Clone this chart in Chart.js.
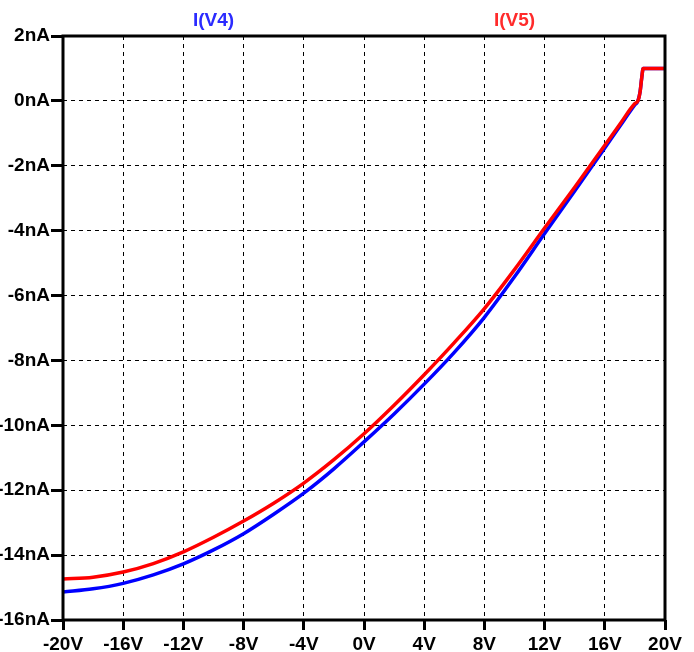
<!DOCTYPE html>
<html>
<head>
<meta charset="utf-8">
<script src="https://cdn.jsdelivr.net/npm/chart.js@4.4.1/dist/chart.umd.min.js"></script>
<style>
  html, body { margin: 0; padding: 0; background: #ffffff; }
  #wrap { width: 694px; height: 652px; }
</style>
</head>
<body>
<div id="wrap"><canvas id="c" width="694" height="652"></canvas></div>
<script>
// Sweep voltage (V)
const voltsV4 = [-20, -18, -16, -14, -12, -10, -8, -6, -4, -2, 0, 2, 4, 6, 8, 10, 12, 14, 16, 17, 18, 18.2, 18.35, 18.45, 18.55, 20];
const voltsV5 = [-20, -18, -16, -14, -12, -10, -8, -6, -4, -2, 0, 2, 4, 6, 8, 10, 12, 14, 16, 17, 18, 18.2, 18.35, 18.45, 18.55, 20];
// Currents (nA)
const currentV4 = [-15.14, -15.04, -14.87, -14.61, -14.27, -13.84, -13.34, -12.74, -12.09, -11.34, -10.51, -9.65, -8.73, -7.75, -6.67, -5.42, -4.09, -2.78, -1.45, -0.78, -0.12, 0.0, 0.3, 0.7, 1.0, 1.0];
const currentV5 = [-14.74, -14.68, -14.52, -14.26, -13.90, -13.45, -12.95, -12.40, -11.78, -11.06, -10.26, -9.38, -8.44, -7.45, -6.40, -5.20, -3.92, -2.66, -1.37, -0.72, -0.08, 0.0, 0.3, 0.7, 1.0, 1.0];
// Axis ranges / ticks
const xTicks = [-20, -16, -12, -8, -4, 0, 4, 8, 12, 16, 20];
const yTicks = [2, 0, -2, -4, -6, -8, -10, -12, -14, -16];
const seriesNames = ["I(V4)", "I(V5)"];
const seriesColors = ["#0000ff", "#ff0000"];
const titleColors = ["#2b2bff", "#ff2b2b"];

const FONT = "'Liberation Sans', Arial, sans-serif";

const toPts = (xs, ys) => xs.map((x, i) => ({ x: x, y: ys[i] }));

const framePlugin = {
  id: 'frame',
  afterDraw(chart) {
    const { ctx, chartArea: a } = chart;
    ctx.save();
    ctx.strokeStyle = '#000';
    ctx.lineWidth = 3;
    ctx.strokeRect(a.left, a.top, a.right - a.left, a.bottom - a.top);
    // series titles
    ctx.font = "bold 19px " + FONT;
    ctx.textAlign = 'center';
    ctx.textBaseline = 'middle';
    const w = a.right - a.left;
    ctx.fillStyle = titleColors[0];
    ctx.fillText(seriesNames[0], a.left + w * 0.25, 21);
    ctx.fillStyle = titleColors[1];
    ctx.fillText(seriesNames[1], a.left + w * 0.75, 21);
    ctx.restore();
  }
};

new Chart(document.getElementById('c'), {
  type: 'scatter',
  data: {
    datasets: [
      {
        label: seriesNames[1],
        data: toPts(voltsV5, currentV5),
        showLine: true,
        borderColor: seriesColors[1],
        backgroundColor: seriesColors[1],
        borderWidth: 3.5,
        pointRadius: 0,
        cubicInterpolationMode: 'monotone',
        order: 0
      },
      {
        label: seriesNames[0],
        data: toPts(voltsV4, currentV4),
        showLine: true,
        borderColor: seriesColors[0],
        backgroundColor: seriesColors[0],
        borderWidth: 3.5,
        pointRadius: 0,
        cubicInterpolationMode: 'monotone',
        order: 1
      }
    ]
  },
  options: {
    responsive: false,
    animation: false,
    devicePixelRatio: 1,
    layout: { padding: { left: 0, right: 29, top: 36, bottom: 0 } },
    plugins: { legend: { display: false }, tooltip: { enabled: false } },
    scales: {
      x: {
        type: 'linear',
        min: -20,
        max: 20,
        afterFit(scale) { scale.height = 32; },
        afterBuildTicks(scale) { scale.ticks = xTicks.map(v => ({ value: v })); },
        ticks: {
          callback: v => v + 'V',
          color: '#000',
          font: { family: FONT, size: 19, weight: 'bold' },
          padding: 3,
          maxRotation: 0,
          autoSkip: false
        },
        grid: {
          color: '#000',
          lineWidth: 1,
          drawTicks: true,
          tickLength: 10,
          tickWidth: 3,
          tickColor: '#000'
        },
        border: { display: false, dash: [4, 4] }
      },
      y: {
        type: 'linear',
        min: -16,
        max: 2,
        afterFit(scale) { scale.width = 63; },
        afterBuildTicks(scale) { scale.ticks = yTicks.map(v => ({ value: v })); },
        ticks: {
          callback: v => v + 'nA',
          color: '#000',
          font: { family: FONT, size: 19, weight: 'bold' },
          padding: 1,
          autoSkip: false
        },
        grid: {
          color: '#000',
          lineWidth: 1,
          drawTicks: true,
          tickLength: 12,
          tickWidth: 3,
          tickColor: '#000'
        },
        border: { display: false, dash: [4, 4] }
      }
    }
  },
  plugins: [framePlugin]
});
</script>
</body>
</html>
